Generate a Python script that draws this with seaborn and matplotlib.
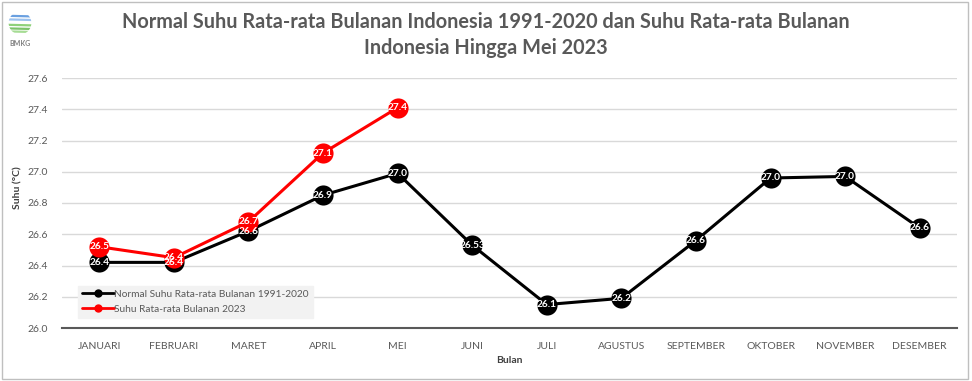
import matplotlib
matplotlib.use("Agg")
import matplotlib.pyplot as plt
import seaborn as sns
import pandas as pd
from matplotlib.patches import Rectangle, Circle
from matplotlib.lines import Line2D

months = ["JANUARI", "FEBRUARI", "MARET", "APRIL", "MEI", "JUNI", "JULI",
          "AGUSTUS", "SEPTEMBER", "OKTOBER", "NOVEMBER", "DESEMBER"]
normal_vals = [26.42, 26.42, 26.62, 26.85, 26.99, 26.53, 26.15, 26.19, 26.56, 26.96, 26.97, 26.64]
normal_labels = ["26.4", "26.4", "26.6", "26.9", "27.0", "26.53", "26.1", "26.2", "26.6", "27.0", "27.0", "26.6"]
vals_2023 = [26.52, 26.45, 26.68, 27.12, 27.41]
labels_2023 = ["26.5", "26.4", "26.7", "27.1", "27.4"]
series_names = ["Normal Suhu Rata-rata Bulanan 1991-2020", "Suhu Rata-rata Bulanan 2023"]
yticks = [26.0, 26.2, 26.4, 26.6, 26.8, 27.0, 27.2, 27.4, 27.6]

sns.set_theme(style="white")
plt.rcParams['font.family'] = ['Lato', 'DejaVu Sans']

df = pd.concat([
    pd.DataFrame({"Bulan": months, "Suhu": normal_vals, "Seri": series_names[0], "Label": normal_labels}),
    pd.DataFrame({"Bulan": months[:len(vals_2023)], "Suhu": vals_2023, "Seri": series_names[1], "Label": labels_2023}),
], ignore_index=True)
df["x"] = df["Bulan"].map({m: i for i, m in enumerate(months)})

fig = plt.figure(figsize=(9.72, 3.81), dpi=100)
fig.patch.set_facecolor("white")
ax = fig.add_axes([62 / 972, 1 - 328 / 381, (957 - 62) / 972, (328 - 78) / 381])

palette = {series_names[0]: "black", series_names[1]: "#ff0000"}
sns.lineplot(data=df, x="x", y="Suhu", hue="Seri", palette=palette, sort=False,
             marker="o", markersize=14.5, linewidth=2.2, markeredgewidth=0, ax=ax,
             legend=False)

for _, r in df.iterrows():
    ax.text(r["x"], r["Suhu"], r["Label"], color="white", fontsize=7.3, fontweight="bold",
            ha="center", va="center", zorder=5)

ax.set_xlim(-0.5, len(months) - 0.5)
ax.set_ylim(yticks[0], yticks[-1])
ax.set_xticks(range(len(months)))
ax.set_xticklabels(months, fontsize=7.5, color="#595959")
ax.set_yticks(yticks)
ax.set_yticklabels([f"{t:.1f}" for t in yticks], fontsize=7.5, color="#595959")
ax.tick_params(axis="x", length=0, pad=10)
ax.tick_params(axis="y", length=0, pad=10)
ax.yaxis.grid(True, color="#d9d9d9", linewidth=1)
ax.set_axisbelow(True)
for s in ["top", "right", "left"]:
    ax.spines[s].set_visible(False)
ax.spines["bottom"].set_color("#595959")
ax.spines["bottom"].set_linewidth(1.5)

ax.set_xlabel("Bulan", fontsize=7.5, fontweight="bold", color="#404040", labelpad=4)
ax.set_ylabel("Suhu (°C)", fontsize=7.5, fontweight="bold", color="#404040")
ax.yaxis.set_label_coords((22 - 62) / (957 - 62), 0.56)

handles = [Line2D([0], [0], color=palette[n], marker="o", markersize=5, linewidth=2) for n in series_names]
leg = ax.legend(handles, series_names, loc="lower left", bbox_to_anchor=(0.012, 0.02),
                fontsize=7.3, frameon=True, facecolor="#f2f2f2", edgecolor="#f2f2f2",
                framealpha=1, handlelength=3.2, handletextpad=0.0, borderpad=0.4,
                labelspacing=0.6, fancybox=False)
for t in leg.get_texts():
    t.set_color("#595959")

fig.text(0.5, 1 - 22 / 381, "Normal Suhu Rata-rata Bulanan Indonesia 1991-2020 dan Suhu Rata-rata Bulanan",
         ha="center", va="center", fontsize=14.3, fontweight="bold", color="#595959")
fig.text(0.5, 1 - 48 / 381, "Indonesia Hingga Mei 2023",
         ha="center", va="center", fontsize=14.3, fontweight="bold", color="#595959")

# small logo
lax = fig.add_axes([8 / 972, 1 - 38 / 381, 24 / 972, 30 / 381])
lax.set_xlim(-1, 1)
lax.set_ylim(-1, 1)
lax.set_aspect("equal")
lax.axis("off")
circ = Circle((0, 0), 0.95, facecolor="none", edgecolor="none")
lax.add_patch(circ)
for yy, c in [(0.6, "#6aa0e0"), (0.3, "#9cc2ee"), (-0.15, "#8fd17a"), (-0.45, "#7cc36a"), (-0.7, "#a6dc94")]:
    ln, = lax.plot([-1, 1], [yy, yy - 0.05], color=c, linewidth=1.6)
    ln.set_clip_path(circ)
fig.text(20 / 972, 1 - 43 / 381, "BMKG", ha="center", va="center", fontsize=5, color="#808080", fontweight="bold")

fig.add_artist(Rectangle((0.002, 0.004), 0.994, 0.99, transform=fig.transFigure,
                         fill=False, edgecolor="#bfbfbf", linewidth=1))

fig.savefig("out.png", dpi=100)
